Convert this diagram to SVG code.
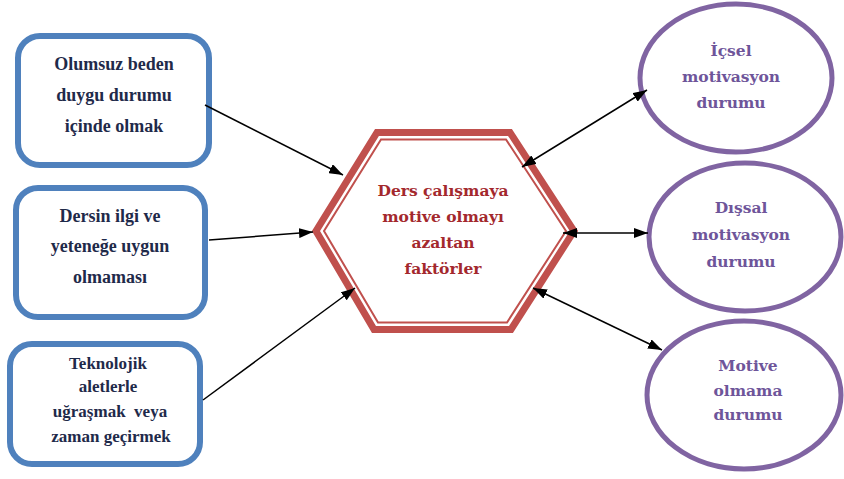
<svg xmlns="http://www.w3.org/2000/svg" width="844" height="479" viewBox="0 0 844 479">
<defs>
<style>
.box{fill:#fff;stroke:#4f81bd;stroke-width:6}
.btxt{font-family:'Liberation Serif',serif;font-weight:bold;font-size:18px;fill:#1f2a4a;text-anchor:middle}
.ell{fill:#fff;stroke:#8064a2;stroke-width:5}
.etxt{font-family:'DejaVu Serif',serif;font-weight:bold;font-size:15.5px;fill:#6e559a;text-anchor:middle}
.htxt{font-family:'DejaVu Serif',serif;font-weight:bold;font-size:15.5px;fill:#a3282d;text-anchor:middle}
.con{stroke:#000;stroke-width:1.5;fill:none}
</style>
<marker id="ah" viewBox="0 0 14 10" refX="14" refY="5" markerWidth="14" markerHeight="10" markerUnits="userSpaceOnUse" orient="auto-start-reverse">
<path d="M0,0 L14,5 L0,10 z" fill="#000"/>
</marker>
</defs>
<rect width="844" height="479" fill="#fff"/>

<g id="box1">
<rect class="box" x="18" y="36" width="191" height="129" rx="22"/>
<text class="btxt" x="114" y="70">Olumsuz beden</text>
<text class="btxt" x="114" y="101">duygu durumu</text>
<text class="btxt" x="114" y="132">içinde olmak</text>
</g>
<g id="box2">
<rect class="box" x="16" y="188" width="189" height="129" rx="22"/>
<text class="btxt" x="110" y="222">Dersin ilgi ve</text>
<text class="btxt" x="110" y="252">yeteneğe uygun</text>
<text class="btxt" x="110" y="283">olmaması</text>
</g>
<g id="box3">
<rect class="box" x="10" y="344" width="190" height="120" rx="22"/>
<text class="btxt" style="font-size:17px" x="108" y="369">Teknolojik</text>
<text class="btxt" style="font-size:17px" x="108" y="392">aletlerle</text>
<text class="btxt" style="font-size:17px;white-space:pre" x="110" y="417">uğraşmak  veya</text>
<text class="btxt" style="font-size:17px" x="111" y="442">zaman geçirmek</text>
</g>

<g id="hexagon">
<polygon points="377,132.5 510,132.5 574,231 511,329.5 374,329.5 316,231" fill="#fff" stroke="#c0504d" stroke-width="7"/>
<polygon points="381,139.5 506,139.5 566,231 507,322.5 378,322.5 324,231" fill="none" stroke="#c0504d" stroke-width="2"/>
<text class="htxt" x="443" y="196">Ders çalışmaya</text>
<text class="htxt" x="443" y="222">motive olmayı</text>
<text class="htxt" x="443" y="248">azaltan</text>
<text class="htxt" x="443" y="274">faktörler</text>
</g>

<g id="ellipse1">
<ellipse class="ell" cx="736" cy="78" rx="96" ry="74"/>
<text class="etxt" x="731" y="56">İçsel</text>
<text class="etxt" x="731" y="82">motivasyon</text>
<text class="etxt" x="731" y="108">durumu</text>
</g>
<g id="ellipse2">
<ellipse class="ell" cx="745" cy="237" rx="96" ry="74"/>
<text class="etxt" x="741" y="213">Dışsal</text>
<text class="etxt" x="741" y="240">motivasyon</text>
<text class="etxt" x="741" y="267">durumu</text>
</g>
<g id="ellipse3">
<ellipse class="ell" cx="744" cy="395" rx="97" ry="74"/>
<text class="etxt" x="748" y="371">Motive</text>
<text class="etxt" x="748" y="396">olmama</text>
<text class="etxt" x="748" y="420">durumu</text>
</g>

<g id="connectors">
<line class="con" x1="205" y1="105" x2="343" y2="175" marker-end="url(#ah)"/>
<line class="con" x1="209" y1="240" x2="313" y2="232" marker-end="url(#ah)"/>
<line class="con" x1="203" y1="400" x2="355" y2="288" marker-end="url(#ah)"/>
<line class="con" x1="522" y1="167" x2="647" y2="90" marker-start="url(#ah)" marker-end="url(#ah)"/>
<line class="con" x1="563" y1="233" x2="648" y2="233" marker-start="url(#ah)" marker-end="url(#ah)"/>
<line class="con" x1="533" y1="288" x2="662" y2="350" marker-start="url(#ah)" marker-end="url(#ah)"/>
</g>
</svg>
